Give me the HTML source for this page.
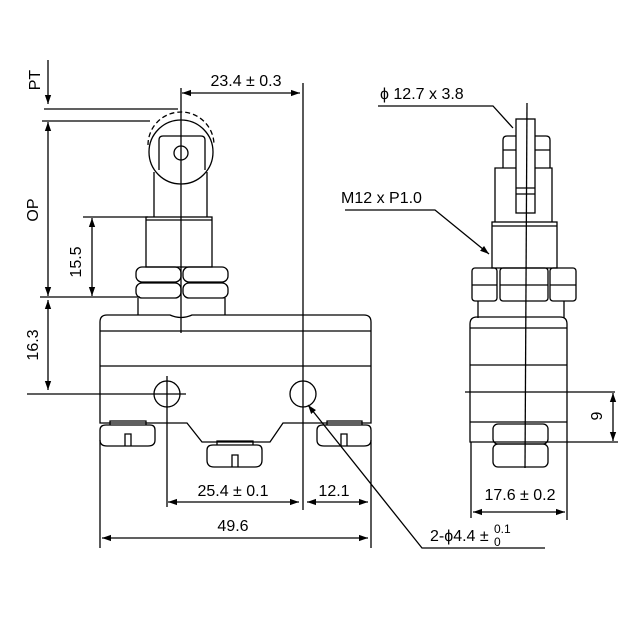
<!DOCTYPE html>
<html><head><style>body{margin:0;background:#fff}svg{display:block}text{font-family:"Liberation Sans",sans-serif;font-size:16px;fill:#000}</style></head>
<body>
<svg width="630" height="630" viewBox="0 0 630 630" xmlns="http://www.w3.org/2000/svg">
<defs>
<marker id="a" viewBox="0 0 10 10" refX="10" refY="5" markerWidth="9" markerHeight="9" orient="auto-start-reverse" markerUnits="userSpaceOnUse"><path d="M0,1.5 L10,5 L0,8.5Z" fill="#000"/></marker>
</defs>
<g fill="none" stroke="#000" stroke-width="1.3">
<line x1="48" y1="60" x2="48" y2="104" marker-end="url(#a)"/>
<line x1="44" y1="109" x2="178" y2="109"/>
<line x1="42" y1="121" x2="150" y2="121"/>
<line x1="48" y1="122" x2="48" y2="296" marker-start="url(#a)" marker-end="url(#a)"/>
<line x1="83" y1="217" x2="148" y2="217"/>
<line x1="92" y1="218" x2="92" y2="296" marker-start="url(#a)" marker-end="url(#a)"/>
<line x1="40" y1="297" x2="140" y2="297"/>
<line x1="48" y1="300" x2="48" y2="390" marker-start="url(#a)" marker-end="url(#a)"/>
<line x1="27" y1="394" x2="186" y2="394"/>
<line x1="181" y1="88" x2="181" y2="333"/>
<line x1="182" y1="93" x2="300" y2="93" marker-start="url(#a)" marker-end="url(#a)"/>
<line x1="303" y1="83" x2="303" y2="510"/>
<circle cx="181" cy="152" r="32"/>
<path d="M148,145 A33,33 0 0 1 214,145" stroke-dasharray="5,3"/>
<path d="M159,170 V140 Q159,136 163,136 H201 Q205,136 205,140 V170"/>
<circle cx="181" cy="153" r="7"/>
<path d="M154,172 V217 M207,172 V217"/>
<rect x="146" y="217" width="66" height="50"/>
<line x1="146" y1="220" x2="212" y2="220"/>
<rect x="136" y="267" width="45" height="15" rx="6"/><rect x="183" y="267" width="45" height="15" rx="6"/>
<rect x="136" y="283" width="45" height="15" rx="6"/><rect x="183" y="283" width="45" height="15" rx="6"/>
<path d="M138,298 V315 M225,298 V315"/>
<path d="M100,423 V322 Q100,315 107,315 H170 Q181,320 192,315 H364 Q371,315 371,322 V423 H283 L270,442 H202 L187,423 Z"/>
<line x1="100" y1="331" x2="371" y2="331"/>
<line x1="100" y1="366" x2="371" y2="366"/>
<circle cx="167" cy="394" r="13"/>
<circle cx="303" cy="394" r="13"/>
<line x1="167" y1="376" x2="167" y2="507"/>
<path d="M100,430 Q100,425 106,425 H150 Q155,425 155,430 V440 Q155,446 148,446 H107 Q100,446 100,440Z M110,425 V421 H146 V425 M125,446 V434 H131 V446"/>
<path d="M207,450 Q207,445 213,445 H257 Q262,445 262,450 V460 Q262,467 255,467 H214 Q207,467 207,460Z M217,445 V441 H253 V445 M232,467 V455 H238 V467"/>
<path d="M317,430 Q317,425 323,425 H366 Q371,425 371,430 V440 Q371,446 364,446 H324 Q317,446 317,440Z M327,425 V421 H362 V425 M341,446 V434 H347 V446"/>
<line x1="168" y1="502" x2="299" y2="502" marker-start="url(#a)" marker-end="url(#a)"/>
<line x1="307" y1="502" x2="368" y2="502" marker-start="url(#a)" marker-end="url(#a)"/>
<line x1="100" y1="440" x2="100" y2="548"/>
<line x1="371" y1="440" x2="371" y2="548"/>
<line x1="102" y1="538" x2="368" y2="538" marker-start="url(#a)" marker-end="url(#a)"/>
<polyline points="545,548 422,548 308,405" marker-end="url(#a)"/>
<polyline points="378,106 493,106 513,128"/>
<polyline points="345,210 435,210 489,254" marker-end="url(#a)"/>
<line x1="527" y1="103" x2="525" y2="468"/>
<rect x="516" y="119" width="19" height="94"/>
<line x1="516" y1="188" x2="535" y2="188"/><line x1="516" y1="194" x2="535" y2="194"/>
<path d="M503,168 V140 Q503,136 507,136 H516 M535,136 H546 Q550,136 550,140 V168 M503,150 H516 M535,150 H550"/>
<path d="M495,222 V168 H516 M535,168 H552 V222"/>
<rect x="492" y="222" width="65" height="46"/>
<line x1="492" y1="226" x2="557" y2="226"/>
<rect x="472" y="268" width="25" height="33" rx="3"/><rect x="500" y="268" width="48" height="33" rx="3"/><rect x="550" y="268" width="26" height="33" rx="3"/>
<path d="M472,285 H497 M500,285 H548 M550,285 H576"/>
<path d="M478,301 V318 M564,301 V318"/>
<path d="M470,442 V324 Q470,317 477,317 H560 Q567,317 567,324 V442 Z"/>
<line x1="470" y1="328" x2="567" y2="328"/>
<line x1="470" y1="365" x2="567" y2="365"/>
<line x1="470" y1="422" x2="567" y2="422"/>
<rect x="493" y="424" width="55" height="20" rx="5"/>
<rect x="493" y="444" width="55" height="23" rx="5"/>
<line x1="465" y1="392" x2="615" y2="392"/>
<line x1="567" y1="442" x2="618" y2="442"/>
<line x1="613" y1="393" x2="613" y2="441" marker-start="url(#a)" marker-end="url(#a)"/>
<line x1="471" y1="442" x2="471" y2="518"/>
<line x1="567" y1="442" x2="567" y2="520"/>
<line x1="473" y1="512" x2="565" y2="512" marker-start="url(#a)" marker-end="url(#a)"/>
</g>
<text x="36" y="80" transform="rotate(-90 36 80)" text-anchor="middle" dominant-baseline="middle">PT</text>
<text x="34" y="210" transform="rotate(-90 34 210)" text-anchor="middle" dominant-baseline="middle">OP</text>
<text x="77" y="262" transform="rotate(-90 77 262)" text-anchor="middle" dominant-baseline="middle">15.5</text>
<text x="34" y="345" transform="rotate(-90 34 345)" text-anchor="middle" dominant-baseline="middle">16.3</text>
<text x="598" y="416" transform="rotate(-90 598 416)" text-anchor="middle" dominant-baseline="middle">9</text>
<text x="246" y="86" text-anchor="middle">23.4 ± 0.3</text>
<text x="233" y="496" text-anchor="middle">25.4 ± 0.1</text>
<text x="334" y="496" text-anchor="middle">12.1</text>
<text x="233" y="531" text-anchor="middle">49.6</text>
<text x="520" y="500" text-anchor="middle">17.6 ± 0.2</text>
<text x="380" y="99">ϕ 12.7 x 3.8</text>
<text x="341" y="203">M12 x P1.0</text>
<text x="430" y="541">2-ϕ4.4 ±</text>
<text x="494" y="533" style="font-size:12px">0.1</text>
<text x="494" y="546" style="font-size:12px">0</text>
</svg>
</body></html>
